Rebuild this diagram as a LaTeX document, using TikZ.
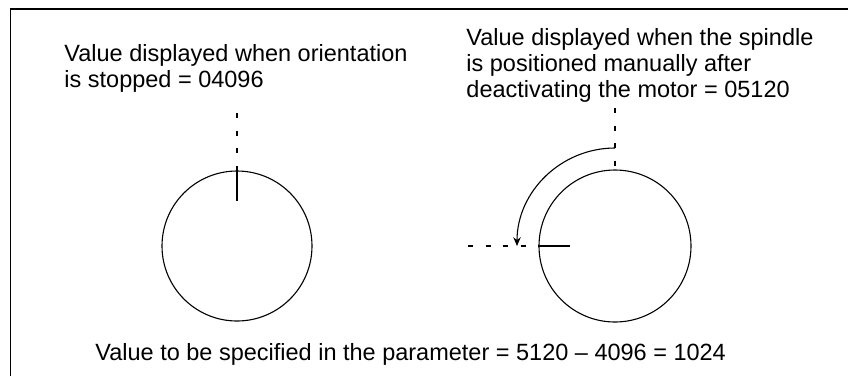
\documentclass[tikz,border=0pt]{standalone}
\usepackage{fontspec}
\setmainfont{Liberation Sans}
\usetikzlibrary{arrows.meta}

\begin{document}
\begin{tikzpicture}[
    x=0.016cm, y=-0.016cm,
    >={Stealth[length=4pt, width=3.4pt]},
    note/.style={anchor=north west, inner sep=0pt, align=left,
                 font=\fontsize{10.7}{11.8}\selectfont},
    disc/.style={line width=0.5pt},
    guide/.style={line width=0.5pt, dash pattern=on 2.3pt off 5.7pt},
    frame/.style={line width=0.9pt},
]
    \useasboundingbox (0,0) rectangle (848,376);

    % Frame
    \draw[frame] (10.5,376) -- (10.5,9) -- (848,9);

    % Spindle positions
    \coordinate (stopC) at (237,246);
    \coordinate (manC)  at (615,246);
    \draw[disc] (stopC) circle[radius=75];
    \draw[disc] (manC) circle[radius=76];

    \draw[disc] (stopC) ++(0,-75) -- ++(0,30);
    \draw[guide] (237,113) -- (237,171);

    \draw[disc] (manC) ++(-76,0) -- ++(31,0);
    \draw[guide] (468,246) -- (539,246);
    \draw[guide] (615,108) -- (615,170);
    \draw[disc, ->] (615,148) arc[start angle=-90, end angle=-180, radius=98];

    % Labels
    \node[note] (stopped) at (64,44)
        {Value displayed when orientation\\is stopped = 04096};
    \node[note] (manual) at (466,28)
        {Value displayed when the spindle\\is positioned manually after\\deactivating the motor = 05120};
    \node[note] (param) at (95,343)
        {Value to be specified in the parameter = 5120 -- 4096 = 1024};
\end{tikzpicture}
\end{document}
